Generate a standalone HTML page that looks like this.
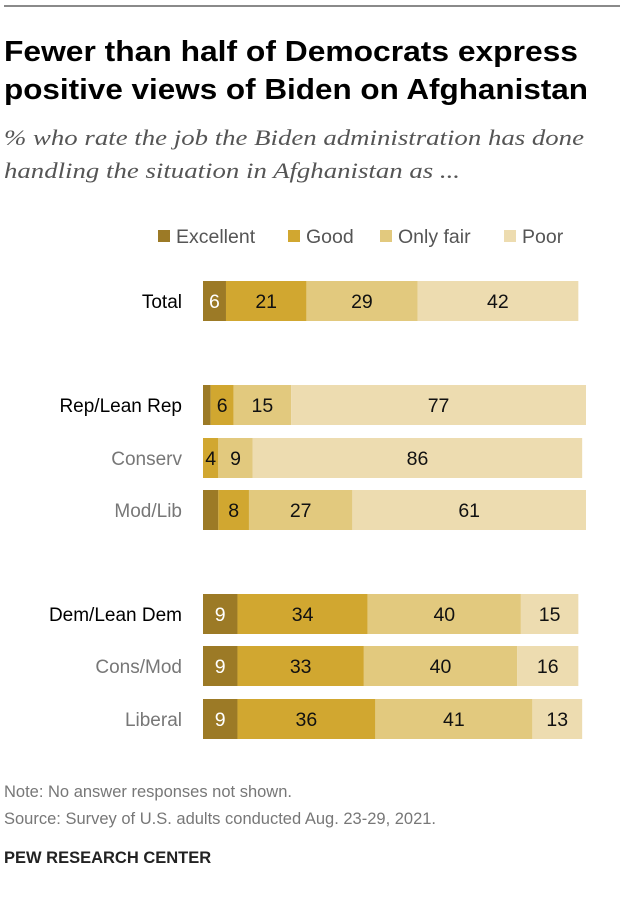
<!DOCTYPE html>
<html><head><meta charset="utf-8"><style>
body{margin:0;background:#fff;width:620px;height:905px;overflow:hidden;font-family:"Liberation Sans",sans-serif}
</style></head><body>
<svg width="620" height="905" xmlns="http://www.w3.org/2000/svg">
<line x1="4" y1="6" x2="620" y2="6" stroke="#8a8a8a" stroke-width="2"/>
<text x="4" y="61" font-size="28.5" font-weight="bold" fill="#000" textLength="574" lengthAdjust="spacingAndGlyphs">Fewer than half of Democrats express</text>
<text x="4" y="99" font-size="28.5" font-weight="bold" fill="#000" textLength="584" lengthAdjust="spacingAndGlyphs">positive views of Biden on Afghanistan</text>
<text x="4" y="145" font-family="Liberation Serif,serif" font-style="italic" font-size="22" fill="#555" textLength="580" lengthAdjust="spacingAndGlyphs">% who rate the job the Biden administration has done</text>
<text x="4" y="178" font-family="Liberation Serif,serif" font-style="italic" font-size="22" fill="#555" textLength="456" lengthAdjust="spacingAndGlyphs">handling the situation in Afghanistan as ...</text>
<g id="legend"></g>
<g id="bars"></g>
<text x="4" y="797" font-size="16.5" fill="#777">Note: No answer responses not shown.</text>
<text x="4" y="824" font-size="16.5" fill="#777">Source: Survey of U.S. adults conducted Aug. 23-29, 2021.</text>
<text x="4" y="863" font-size="16.5" font-weight="bold" fill="#222">PEW RESEARCH CENTER</text>
</svg>
<script>
const categories=["Total","Rep/Lean Rep","Conserv","Mod/Lib","Dem/Lean Dem","Cons/Mod","Liberal"];
const excellent=[6,2,0,4,9,9,9];
const good=[21,6,4,8,34,33,36];
const onlyFair=[29,15,9,27,40,40,41];
const poor=[42,77,86,61,15,16,13];
const seriesNames=["Excellent","Good","Only fair","Poor"];
const colors=["#9c7a26","#d1a730","#e2c97e","#eddcb0"];
const rowY=[301,405,458,510,614,666,719];
const isMain=[true,true,false,false,true,false,false];
const x0=203,scale=3.83,barH=40;
const xs=v=>v*scale;
const ns="http://www.w3.org/2000/svg";
const bars=document.getElementById('bars');
const series=[excellent,good,onlyFair,poor];
categories.forEach((c,i)=>{
  const lab=document.createElementNS(ns,'text');
  
  
  lab.setAttribute('x',182);lab.setAttribute('y',rowY[i]+7);
  lab.setAttribute('text-anchor','end');lab.setAttribute('font-size','19');
  lab.setAttribute('fill',isMain[i]?'#000':'#777');
  lab.textContent=c;bars.appendChild(lab);
  let x=x0;
  series.forEach((s,k)=>{
    const v=s[i];const w=xs(v);
    const r=document.createElementNS(ns,'rect');
    
    
    r.setAttribute('x',x);r.setAttribute('y',rowY[i]-barH/2);
    r.setAttribute('width',w);r.setAttribute('height',barH);
    r.setAttribute('fill',colors[k]);bars.appendChild(r);
    if((k==0&&v>=5)||(k>0&&v>=3)){
      const t=document.createElementNS(ns,'text');
      
      
      t.setAttribute('x',x+w/2);t.setAttribute('y',rowY[i]+7);
      t.setAttribute('text-anchor','middle');t.setAttribute('font-size','19.5');
      t.setAttribute('fill',k==0?'#fff':'#111');
      t.textContent=v;bars.appendChild(t);
    }
    x+=w;
  });
});
const lg=document.getElementById('legend');
const lx=[158,288,380,504];
seriesNames.forEach((n,k)=>{
  const r=document.createElementNS(ns,'rect');
  
  
  r.setAttribute('x',lx[k]);r.setAttribute('y',230);r.setAttribute('width',12);r.setAttribute('height',12);
  r.setAttribute('fill',colors[k]);lg.appendChild(r);
  const t=document.createElementNS(ns,'text');
  
  
  t.setAttribute('x',lx[k]+18);t.setAttribute('y',243);t.setAttribute('font-size','19.5');t.setAttribute('fill','#555');
  t.textContent=n;lg.appendChild(t);
});
</script>
</body></html>
